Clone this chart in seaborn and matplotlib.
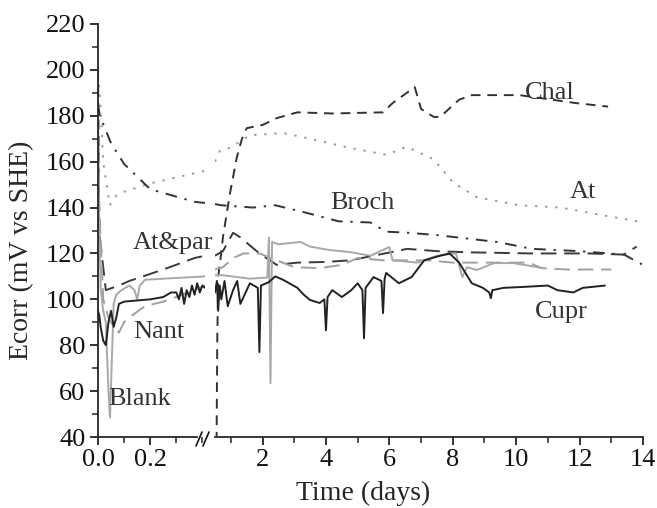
import pandas as pd
import matplotlib.pyplot as plt
import seaborn as sns
from matplotlib.lines import Line2D
from matplotlib.ticker import MultipleLocator

sns.set_theme(style="ticks")
plt.rcParams['font.family'] = ['Liberation Serif', 'DejaVu Serif']

# ---- data (time in days, Ecorr in mV vs SHE) ----
# left part of the broken axis (0 - 0.41 d)
chal_t1 = [0.0, 0.003, 0.006]
chal_v1 = [200, 160, 118]
at_t1 = [0.0, 0.008, 0.02, 0.045, 0.075, 0.2, 0.39, 0.41]
at_v1 = [198, 188, 160, 141, 146, 150.5, 155.5, 156]
broch_t1 = [0.0, 0.007, 0.05, 0.1, 0.2, 0.37, 0.41]
broch_v1 = [185, 180, 168, 159, 148, 142.5, 142]
atpar_t1 = [0.0, 0.004, 0.03, 0.08, 0.12, 0.25, 0.37, 0.41]
atpar_v1 = [178, 130, 104, 106, 108, 113, 118, 119]
nant_t1 = [0.0, 0.005, 0.02, 0.04, 0.06, 0.08, 0.1, 0.13, 0.18, 0.25, 0.3, 0.41]
nant_v1 = [176, 140, 100, 92, 88, 85.5, 90, 93, 97, 99, 101, 106]
blank_t1 = [0.0, 0.004, 0.01, 0.02, 0.03, 0.04, 0.046, 0.052, 0.06, 0.07,
            0.09, 0.12, 0.14, 0.15, 0.16, 0.18, 0.25, 0.41]
blank_v1 = [172, 140, 105, 95, 90, 60, 48.5, 70, 98, 102,
            104, 106, 104, 100, 106, 108.5, 109, 110]
cupr_t1 = [0.0, 0.005, 0.01, 0.02, 0.03, 0.035, 0.04, 0.05, 0.06, 0.07,
           0.08, 0.1, 0.15, 0.2, 0.25, 0.28, 0.3, 0.31, 0.32, 0.33,
           0.34, 0.35, 0.36, 0.37, 0.38, 0.39, 0.4, 0.41]
cupr_v1 = [95, 93, 88, 82, 80, 85, 90, 95, 88, 92,
           98, 99, 99.5, 100, 101, 103, 103, 100, 105, 98,
           104, 101, 106, 102, 107, 103, 106, 105]

# right part of the broken axis (0.5 - 14 d)
chal_t2 = [0.55, 0.57, 0.6, 0.66, 0.75, 0.97, 1.19, 1.35, 1.5, 2.0, 2.45, 3.1,
           4.2, 5.8, 6.1, 6.8, 7.0, 7.4, 7.6, 8.2, 8.6, 10.1, 11.9, 12.9]
chal_v2 = [38, 80, 110, 116, 127, 146, 162, 170, 174.6, 176, 179, 181.5,
           181, 181.5, 185.5, 192.5, 183, 179.5, 179.5, 187, 189, 189, 185.5, 184]
at_t2 = [0.5, 0.66, 0.97, 1.6, 2.65, 3.5, 4.76, 5.9, 6.55, 7.4, 8.0, 8.76,
         10.1, 11.4, 12.4, 13.8, 14.0]
at_v2 = [160, 165, 166, 171.5, 172.5, 170, 166, 163, 166.5, 161, 151, 144.5,
         141, 140, 137.5, 134, 133.5]
broch_t2 = [0.5, 0.7, 1.7, 2.4, 3.3, 4.4, 5.4, 5.9, 6.6, 7.5, 8.45, 9.4,
            10.5, 12.0, 13.4, 14.0]
broch_v2 = [141.5, 141, 140, 141, 138, 134, 133.5, 129.5, 129, 128, 126.5, 125,
            122, 121, 119.5, 115]
atpar_t2 = [0.5, 0.75, 1.07, 1.3, 1.9, 2.45, 3.1, 4.0, 4.76, 5.5, 6.56, 7.5,
            8.45, 10.5, 12.3, 13.4, 13.8]
atpar_v2 = [119, 121, 129, 127, 120, 115, 116, 116.3, 117, 119, 122, 121,
            120.5, 120, 120, 119.5, 123]
nant_t2 = [0.5, 0.75, 1.07, 1.4, 1.9, 2.45, 3.0, 3.8, 4.5, 5.0, 5.8, 7.2,
           8.0, 10.4, 10.8, 11.6, 12.3, 13.0]
nant_v2 = [113, 114, 118, 120, 120, 117, 114, 113.6, 115, 118, 117, 117,
           116, 116, 113.6, 113, 113, 113]
blank_t2 = [0.5, 0.75, 1.6, 2.15, 2.2, 2.25, 2.3, 2.5, 3.2, 3.5, 4.1, 4.76,
            5.4, 6.0, 6.1, 6.9, 7.5, 8.1, 8.3, 8.45, 8.76, 9.3, 9.9, 10.85]
blank_v2 = [110.5, 110.5, 109, 109.5, 127, 63.5, 125, 124, 125, 123, 121.5, 120.6,
            119, 122.8, 117, 116, 119, 120, 109.7, 114, 112.8, 115.8, 115.8, 113.6]
cupr_t2 = [0.5, 0.56, 0.6, 0.65, 0.7, 0.8, 0.9, 1.07, 1.2, 1.3, 1.6, 1.85,
           1.9, 1.95, 2.2, 2.4, 2.65, 3.1, 3.3, 3.5, 3.8, 3.95, 4.0, 4.05,
           4.2, 4.5, 4.8, 5.0, 5.15, 5.2, 5.25, 5.5, 5.75, 5.8, 5.85, 5.9,
           6.3, 6.7, 7.1, 7.6, 7.9, 8.2, 8.6, 8.95, 9.15, 9.2, 9.25, 9.6,
           10.2, 11.0, 11.3, 11.8, 12.1, 12.8]
cupr_v2 = [103, 108, 95, 106, 100, 108, 97, 104, 108, 98, 107, 105,
           77, 106, 107.5, 110, 108.5, 105, 102, 99.7, 98.4, 100, 86.5, 101,
           104, 101, 104, 107, 104, 83, 105, 109.7, 108, 94, 109, 111.5,
           107, 109.7, 117, 119, 120, 116, 107, 105, 103, 100.5, 104, 105,
           105.4, 106, 104, 103, 105, 106]

series = {
    'Chal':   (chal_t1, chal_v1, chal_t2, chal_v2, '#333333', (0, (5, 3.5))),
    'At':     (at_t1, at_v1, at_t2, at_v2, '#9a9a9a', (0, (1.2, 4))),
    'Broch':  (broch_t1, broch_v1, broch_t2, broch_v2, '#333333', (0, (6, 4, 1.2, 4))),
    'At&par': (atpar_t1, atpar_v1, atpar_t2, atpar_v2, '#3a3a3a', (0, (8, 4))),
    'Nant':   (nant_t1, nant_v1, nant_t2, nant_v2, '#a0a0a0', (0, (8, 4))),
    'Blank':  (blank_t1, blank_v1, blank_t2, blank_v2, '#a8a8a8', '-'),
    'Cupr':   (cupr_t1, cupr_v1, cupr_t2, cupr_v2, '#222222', '-'),
}

fig = plt.figure(figsize=(6.57, 5.08), dpi=100)
W, H = 657, 508
bottom, top = 1 - 437 / H, 1 - 24 / H
ax1 = fig.add_axes([98 / W, bottom, (205 - 98) / W, top - bottom])
ax2 = fig.add_axes([215 / W, bottom, (643 - 215) / W, top - bottom])

for name, (t1, v1, t2, v2, col, ls) in series.items():
    d1 = pd.DataFrame({'t': t1, 'v': v1})
    d2 = pd.DataFrame({'t': t2, 'v': v2})
    sns.lineplot(data=d1, x='t', y='v', ax=ax1, color=col, linestyle=ls,
                 linewidth=1.4, sort=False, estimator=None)
    sns.lineplot(data=d2, x='t', y='v', ax=ax2, color=col, linestyle=ls,
                 linewidth=1.4, sort=False, estimator=None)

for ax in (ax1, ax2):
    ax.set_ylim(40, 220)
    ax.set_xlabel('')
    ax.set_ylabel('')
    ax.spines['top'].set_visible(False)
    ax.spines['right'].set_visible(False)
    ax.spines['bottom'].set_linewidth(1.3)
    ax.tick_params(axis='both', which='major', length=6, width=1.2,
                   labelsize=19, colors='#111111', pad=3)
    ax.tick_params(axis='both', which='minor', length=4, width=1.1)

ax1.set_xlim(0, 0.41)
ax1.set_xticks([0.0, 0.2])
ax1.set_xticklabels(['0.0', '0.2'])
ax1.xaxis.set_minor_locator(MultipleLocator(0.1))
ax1.spines['bottom'].set_bounds(0, 0.38)
ax1.spines['left'].set_linewidth(1.3)
ax1.set_yticks(range(40, 221, 20))
ax1.yaxis.set_minor_locator(MultipleLocator(10))

ax2.set_xlim(0.5, 14)
ax2.set_xticks(range(2, 15, 2))
ax2.xaxis.set_minor_locator(MultipleLocator(1))
ax2.spines['left'].set_visible(False)
ax2.tick_params(axis='y', which='both', left=False, labelleft=False)
ax2.patch.set_alpha(0)
ax1.patch.set_alpha(0)

# axis break marks
for x0 in (196, 203):
    fig.add_artist(Line2D([x0 / W, (x0 + 6) / W], [1 - 446 / H, 1 - 432 / H],
                          color='#111111', linewidth=1.2))

fig.text(363 / W, 1 - 493 / H, 'Time (days)', ha='center', va='center', fontsize=20)
fig.text(22 / W, 1 - 250 / H, 'Ecorr (mV vs SHE)', ha='center', va='center',
         rotation=90, fontsize=20)

labels = {'Chal': (550, 93), 'At': (583, 192), 'Broch': (362, 203),
          'At&par': (173, 243), 'Nant': (159, 332), 'Blank': (140, 399),
          'Cupr': (561, 312)}
for name, (px, py) in labels.items():
    fig.text(px / W, 1 - py / H, name, ha='center', va='center',
             fontsize=19, color='#333333')

fig.savefig('out.png', dpi=100)
